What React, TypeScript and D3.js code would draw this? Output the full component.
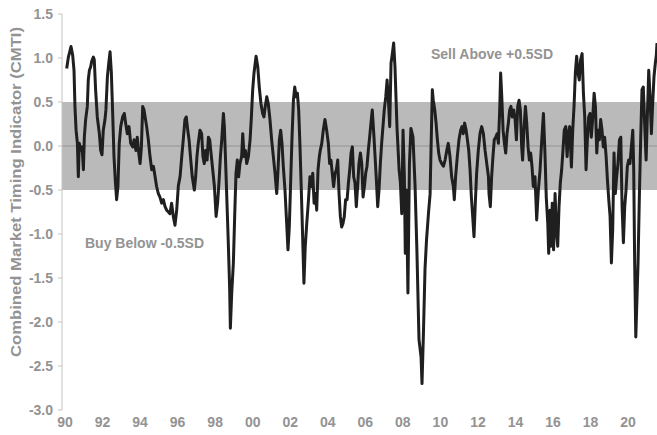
import React from "react";
import * as d3 from "d3";

const dates: number[] = [
  1990.09, 1990.18, 1990.32, 1990.41, 1990.48, 1990.53, 1990.59, 1990.66, 1990.71, 1990.76, 1990.83, 1990.91, 1990.98,
  1991.03, 1991.10, 1991.19, 1991.24, 1991.30, 1991.37, 1991.42, 1991.51, 1991.56, 1991.63, 1991.72, 1991.83, 1991.90, 1991.97,
  1992.04, 1992.13, 1992.18, 1992.26, 1992.33, 1992.40, 1992.47, 1992.54, 1992.61, 1992.68, 1992.75, 1992.82, 1992.89, 1992.97,
  1993.07, 1993.16, 1993.23, 1993.32, 1993.41, 1993.50, 1993.61, 1993.68, 1993.78, 1993.85, 1993.93,
  1994.00, 1994.07, 1994.14, 1994.21, 1994.35, 1994.44, 1994.53, 1994.62, 1994.71, 1994.80, 1994.88, 1994.97,
  1995.06, 1995.15, 1995.24, 1995.33, 1995.42, 1995.51, 1995.59, 1995.68, 1995.77, 1995.86, 1995.95,
  1996.04, 1996.13, 1996.22, 1996.30, 1996.39, 1996.46, 1996.54, 1996.61, 1996.70, 1996.78, 1996.89, 1996.96,
  1997.03, 1997.10, 1997.19, 1997.28, 1997.35, 1997.42, 1997.49, 1997.57, 1997.64, 1997.71, 1997.78, 1997.87, 1997.96,
  1998.05, 1998.13, 1998.21, 1998.28, 1998.35, 1998.44, 1998.49, 1998.56, 1998.63, 1998.70, 1998.77, 1998.81, 1998.88, 1998.97,
  1999.04, 1999.11, 1999.18, 1999.25, 1999.32, 1999.41, 1999.47, 1999.54, 1999.61, 1999.68, 1999.77, 1999.86, 1999.93,
  2000.00, 2000.07, 2000.18, 2000.27, 2000.35, 2000.44, 2000.53, 2000.60, 2000.67, 2000.75, 2000.83, 2000.92,
  2001.01, 2001.10, 2001.19, 2001.28, 2001.35, 2001.42, 2001.49, 2001.56, 2001.63, 2001.72, 2001.81, 2001.88, 2001.95,
  2002.02, 2002.09, 2002.17, 2002.24, 2002.31, 2002.38, 2002.45, 2002.52, 2002.59, 2002.66, 2002.73, 2002.80, 2002.88, 2002.96,
  2003.05, 2003.12, 2003.20, 2003.27, 2003.34, 2003.41, 2003.48, 2003.55, 2003.60, 2003.68, 2003.76, 2003.85, 2003.94,
  2004.03, 2004.10, 2004.17, 2004.24, 2004.31, 2004.39, 2004.46, 2004.53, 2004.60, 2004.67, 2004.74, 2004.81, 2004.88, 2004.95,
  2005.03, 2005.10, 2005.17, 2005.24, 2005.31, 2005.38, 2005.45, 2005.52, 2005.59, 2005.66, 2005.74, 2005.81, 2005.88, 2005.95,
  2006.02, 2006.09, 2006.16, 2006.23, 2006.30, 2006.37, 2006.45, 2006.52, 2006.59, 2006.66, 2006.73, 2006.80, 2006.87, 2006.94,
  2007.01, 2007.09, 2007.16, 2007.23, 2007.30, 2007.37, 2007.44, 2007.51, 2007.58, 2007.69, 2007.80, 2007.87, 2007.94,
  2008.01, 2008.08, 2008.13, 2008.19, 2008.27, 2008.35, 2008.43, 2008.54, 2008.65, 2008.75, 2008.86, 2008.97,
  2009.02, 2009.10, 2009.18, 2009.26, 2009.37, 2009.45, 2009.52, 2009.57, 2009.62, 2009.70, 2009.77, 2009.84, 2009.91, 2009.98,
  2010.07, 2010.16, 2010.25, 2010.34, 2010.42, 2010.51, 2010.60, 2010.69, 2010.74, 2010.81, 2010.90, 2010.99,
  2011.08, 2011.15, 2011.22, 2011.29, 2011.37, 2011.44, 2011.51, 2011.58, 2011.65, 2011.72, 2011.79, 2011.86, 2011.93,
  2012.02, 2012.11, 2012.20, 2012.29, 2012.38, 2012.47, 2012.56, 2012.59, 2012.66, 2012.73, 2012.80, 2012.87, 2012.95,
  2013.02, 2013.09, 2013.16, 2013.21, 2013.27, 2013.34, 2013.41, 2013.48, 2013.55, 2013.62, 2013.69, 2013.76, 2013.83, 2013.91, 2013.98,
  2014.05, 2014.12, 2014.19, 2014.26, 2014.33, 2014.38, 2014.45, 2014.53, 2014.60, 2014.67, 2014.74, 2014.81, 2014.88, 2014.95,
  2015.04, 2015.13, 2015.22, 2015.31, 2015.40, 2015.49, 2015.57, 2015.64, 2015.72, 2015.77, 2015.84, 2015.89, 2015.96,
  2016.03, 2016.11, 2016.18, 2016.25, 2016.32, 2016.39, 2016.46, 2016.53, 2016.60, 2016.68, 2016.75, 2016.82, 2016.89, 2016.98,
  2017.05, 2017.12, 2017.19, 2017.26, 2017.33, 2017.40, 2017.47, 2017.55, 2017.62, 2017.69, 2017.76, 2017.83, 2017.90, 2017.97,
  2018.04, 2018.11, 2018.19, 2018.26, 2018.33, 2018.40, 2018.47, 2018.54, 2018.61, 2018.68, 2018.75, 2018.83, 2018.90, 2018.97,
  2019.04, 2019.11, 2019.18, 2019.25, 2019.32, 2019.39, 2019.46, 2019.54, 2019.61, 2019.68, 2019.75, 2019.82, 2019.89, 2019.96,
  2020.03, 2020.10, 2020.19, 2020.25, 2020.30, 2020.35, 2020.41, 2020.46, 2020.53, 2020.60, 2020.67, 2020.74, 2020.81, 2020.88, 2020.96,
  2021.03, 2021.10, 2021.17, 2021.24, 2021.31, 2021.38, 2021.45, 2021.50, 2021.54,
];

const cmti: number[] = [
  0.88, 1.01, 1.13, 1.03, 0.86, 0.45, 0.18, 0.03, -0.35, 0.03, -0.05, -0.01, -0.27,
  0.10, 0.30, 0.45, 0.75, 0.86, 0.90, 0.96, 1.01, 0.98, 0.64, 0.33, 0.14, -0.05, -0.10,
  0.18, 0.30, 0.41, 0.79, 0.94, 1.07, 0.83, 0.37, -0.12, -0.39, -0.61, -0.46, 0.03, 0.22,
  0.33, 0.37, 0.26, 0.14, 0.22, 0.03, -0.01, 0.07, -0.05, 0.10, -0.08,
  -0.20, -0.01, 0.45, 0.41, 0.22, 0.07, -0.12, -0.27, -0.23, -0.35, -0.46, -0.54,
  -0.58, -0.65, -0.61, -0.69, -0.73, -0.75, -0.77, -0.65, -0.80, -0.90, -0.73,
  -0.45, -0.35, -0.12, 0.07, 0.30, 0.33, 0.18, 0.07, -0.16, -0.35, -0.50, -0.35,
  -0.12, 0.03, 0.18, 0.14, -0.12, -0.20, -0.05, -0.16, 0.10, 0.07, -0.08, -0.27, -0.46,
  -0.80, -0.65, -0.39, -0.12, 0.07, 0.37, 0.22, -0.20, -0.65, -1.10, -1.60, -2.07, -1.68, -1.33,
  -0.80, -0.31, -0.16, -0.35, -0.20, -0.12, 0.14, -0.12, -0.05, -0.20, -0.12, 0.07, 0.33,
  0.64, 0.83, 1.02, 0.90, 0.67, 0.48, 0.37, 0.33, 0.45, 0.56, 0.48, 0.30,
  0.07, -0.12, -0.31, -0.54, -0.27, 0.07, 0.18, 0.03, -0.23, -0.50, -0.88, -1.18, -0.92,
  -0.42, 0.07, 0.52, 0.67, 0.56, 0.60, 0.41, -0.01, -0.50, -1.03, -1.56, -1.14, -0.88, -0.65,
  -0.35, -0.46, -0.31, -0.65, -0.54, -0.73, -0.27, -0.12, -0.05, 0.03, 0.18, 0.30, 0.18,
  0.03, -0.20, -0.16, -0.31, -0.46, -0.31, -0.27, -0.16, -0.54, -0.80, -0.92, -0.88, -0.80, -0.61,
  -0.61, -0.42, -0.27, -0.08, -0.01, -0.35, -0.42, -0.69, -0.46, -0.20, -0.08, -0.20, -0.58, -0.46,
  -0.31, -0.23, -0.05, 0.10, 0.26, 0.41, 0.14, -0.12, -0.39, -0.69, -0.50, -0.20, 0.03, 0.22,
  0.41, 0.56, 0.75, 0.52, 0.22, 0.94, 1.05, 1.17, 0.90, 0.20, -0.27, -0.42, -0.77,
  0.18, -0.35, -1.22, -0.50, -1.67, -0.20, 0.20, 0.10, -0.45, -1.20, -2.20, -2.40,
  -2.70, -2.10, -1.40, -1.07, -0.75, -0.55, 0.15, 0.64, 0.52, 0.41, 0.26, 0.07, -0.08, -0.16,
  -0.20, -0.23, -0.16, -0.05, 0.03, -0.12, -0.35, -0.46, -0.61, -0.35, -0.12, 0.07,
  0.18, 0.22, 0.14, 0.26, 0.18, 0.07, -0.05, -0.27, -0.58, -0.80, -1.03, -0.65, -0.31,
  -0.05, 0.14, 0.22, 0.14, -0.05, -0.20, -0.35, -0.54, -0.69, -0.35, -0.12, 0.07, 0.10,
  0.14, 0.03, 0.41, 0.83, 0.56, 0.18, 0.03, -0.08, 0.14, 0.26, 0.41, 0.45, 0.33, 0.41, 0.30,
  0.07, 0.45, 0.52, 0.41, -0.01, -0.16, 0.18, 0.45, 0.26, -0.01, -0.16, -0.08, -0.23, -0.46,
  -0.35, -0.84, -0.50, -0.27, 0.07, 0.37, -0.08, -0.58, -0.88, -1.22, -0.73, -1.14, -0.65,
  -1.18, -0.54, -0.96, -1.14, -0.69, -0.42, -0.27, -0.05, 0.18, 0.22, -0.12, 0.14, 0.22, -0.24,
  0.18, 0.45, 0.83, 1.02, 0.83, 0.75, 0.98, 1.05, 0.60, 0.33, -0.27, 0.07, 0.33, 0.37,
  0.10, 0.30, 0.60, 0.45, -0.08, 0.18, 0.07, 0.30, 0.18, -0.01, 0.10, -0.12, -0.39, -0.61,
  -0.80, -1.33, -0.95, -0.08, -0.54, -0.35, -0.20, 0.07, 0.10, -0.69, -1.10, -0.69, -0.50, -0.23,
  -0.16, -0.20, 0.03, 0.18, -0.27, -1.33, -2.17, -1.82, -1.33, -0.58, 0.07, 0.64, 0.67, 0.26, -0.16,
  0.37, 0.86, 0.56, 0.14, 0.48, 0.79, 0.94, 1.02, 1.17,
];

const yTicks: number[] = [1.5, 1.0, 0.5, 0.0, -0.5, -1.0, -1.5, -2.0, -2.5, -3.0];
const xTickYears: number[] = [1990, 1992, 1994, 1996, 1998, 2000, 2002, 2004, 2006, 2008, 2010, 2012, 2014, 2016, 2018, 2020];
const bandLimits: number[] = [-0.5, 0.5];
const yTitle = "Combined Market Timing Indicator (CMTI)";
const sellLabel = "Sell Above +0.5SD";
const buyLabel = "Buy Below -0.5SD";

const W = 657;
const H = 435;
const axisX = 62;
const textColor = "#939393";
const font = "'Liberation Sans', Arial, sans-serif";

export default function App() {
  const x = d3.scaleLinear().domain([1990, 2021.54]).range([65, 657]);
  const y = d3.scaleLinear().domain([-3, 1.5]).range([410, 14]);
  const pts = dates.map((d, i) => [d, cmti[i]] as [number, number]);
  const line = d3
    .line<[number, number]>()
    .x((d) => x(d[0]))
    .y((d) => y(d[1]))
    .curve(d3.curveLinear);

  return (
    <svg
      width={W}
      height={H}
      style={{ position: "absolute", left: 0, top: 0, background: "#fff" }}
    >
      <rect x={axisX} y={y(bandLimits[1])} width={W - axisX} height={y(bandLimits[0]) - y(bandLimits[1])} fill="#bababa" />
      <line x1={axisX} x2={W} y1={y(0)} y2={y(0)} stroke="#949494" strokeWidth={1} />
      <line x1={axisX} x2={axisX} y1={y(1.5)} y2={y(-3)} stroke="#c4c4c4" strokeWidth={1} />
      {yTicks.map((t) => (
        <g key={t}>
          <line x1={axisX - 4} x2={axisX} y1={y(t)} y2={y(t)} stroke="#c4c4c4" strokeWidth={1} />
          <text
            x={axisX - 9}
            y={y(t)}
            dy="0.35em"
            textAnchor="end"
            fontFamily={font}
            fontWeight="bold"
            fontSize={14}
            fill={textColor}
          >
            {t.toFixed(1)}
          </text>
        </g>
      ))}
      {xTickYears.map((yr) => (
        <text
          key={yr}
          x={x(yr)}
          y={427}
          textAnchor="middle"
          fontFamily={font}
          fontWeight="bold"
          fontSize={14}
          fill={textColor}
        >
          {String(yr % 100).padStart(2, "0")}
        </text>
      ))}
      <text
        transform={`translate(21,192) rotate(-90)`}
        textAnchor="middle"
        fontFamily={font}
        fontWeight="bold"
        fontSize={14}
        fill={textColor}
        textLength={330}
        lengthAdjust="spacingAndGlyphs"
      >
        {yTitle}
      </text>
      <text x={431} y={59} fontFamily={font} fontWeight="bold" fontSize={14} fill={textColor}>
        {sellLabel}
      </text>
      <text x={85} y={248} fontFamily={font} fontWeight="bold" fontSize={14} fill={textColor}>
        {buyLabel}
      </text>
      <path d={line(pts) || ""} fill="none" stroke="#1f1f1f" strokeWidth={3} strokeLinejoin="round" />
    </svg>
  );
}
